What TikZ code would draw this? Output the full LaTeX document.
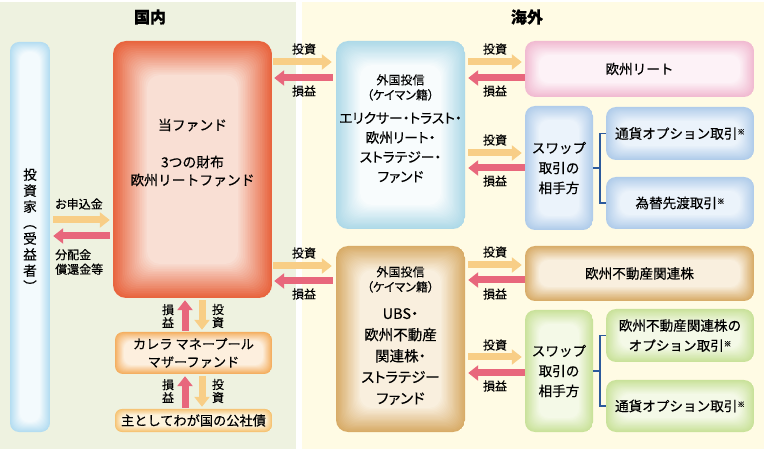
\documentclass[tikz,border=0pt]{standalone}
\usepackage{fontspec}
\setmainfont{Noto Sans CJK JP}[FakeBold=0.4]
\newfontfamily\pf{Noto Sans CJK JP}[RawFeature=+palt, FakeBold=0.4]
\usetikzlibrary{arrows.meta,calc}
\definecolor{bgL}{HTML}{EEF2E0}
\definecolor{bgR}{HTML}{FFFBE4}
\definecolor{yarr}{HTML}{F8CE86}
\definecolor{parr}{HTML}{E8677C}
\definecolor{brk}{HTML}{2C5A9C}
\definecolor{invE}{HTML}{B4DDF1}\definecolor{invC}{HTML}{F3FAFD}
\definecolor{fundE}{HTML}{E8653F}\definecolor{fundC}{HTML}{F9DFD4}
\definecolor{motE}{HTML}{F4AE5E}\definecolor{motC}{HTML}{FDEFDE}
\definecolor{bondE}{HTML}{F6C270}\definecolor{bondC}{HTML}{FDF3DC}
\definecolor{f1E}{HTML}{AED9E8}\definecolor{f1C}{HTML}{F8FCFD}
\definecolor{tanE}{HTML}{D8AC68}\definecolor{tanC}{HTML}{F9EFDE}
\definecolor{pinkE}{HTML}{F1BAD1}\definecolor{pinkC}{HTML}{FDF2F7}
\definecolor{blueE}{HTML}{B0CCEA}\definecolor{blueC}{HTML}{EBF3FB}
\definecolor{grnE}{HTML}{C9E29A}\definecolor{grnC}{HTML}{F4F9E7}
\tikzset{
  x=1pt, y=-1pt,
  glowstep/.store in=\glowstep, glowstep=0.7pt,
  glow/.style n args={3}{draw=none, rounded corners=#3, inner sep=0pt, path picture={
    \foreach \k [evaluate=\k as \p using int(\k*5)] in {0,...,20}{
      \fill[#2!\p!#1, rounded corners=#3]
        ([shift={(\k*\glowstep,-\k*\glowstep)}]path picture bounding box.north west) rectangle
        ([shift={(-\k*\glowstep,\k*\glowstep)}]path picture bounding box.south east);
    }}},
  txt/.style={align=center, font=\fontsize{13.6}{20}\selectfont, inner sep=0pt},
  lab/.style={align=center, font=\pf\fontsize{12}{13}\selectfont, inner sep=0pt},
  hdr/.style={font=\fontsize{16}{16}\selectfont\bfseries, inner sep=0pt},
  yA/.style={draw=yarr, line width=7pt, -{Triangle[width=15pt,length=10pt]}},
  pA/.style={draw=parr, line width=7pt, -{Triangle[width=15pt,length=10pt]}},
  brk/.style={draw=brk, line width=1.4pt},
}
\newcommand{\kome}{\raisebox{0.55ex}{\fontsize{7.5}{7.5}\selectfont ※}}
\begin{document}
\begin{tikzpicture}
\useasboundingbox (0,0) rectangle (764,449);
\fill[white] (0,0) rectangle (764,449);
\fill[bgL] (0,2) rectangle (296,449);
\fill[bgR] (302,2) rectangle (764,449);

\node[hdr] (hL) at (150,17) {国内};
\node[hdr] (hR) at (527,17) {海外};

% boxes
\node[glow={invE}{invC}{9pt}, glowstep=0.5pt, minimum width=40pt, minimum height=390pt] (inv) at (30,237) {};
\node[txt, font=\fontsize{13.6}{16}\selectfont] (invt) at (30,230) {投\\資\\家\\︵\\受\\益\\者\\︶};

\node[glow={fundE}{fundC}{13pt}, glowstep=1.7pt, minimum width=159pt, minimum height=257pt] (fund) at (192.5,169.5) {};
\node[txt, font=\fontsize{13.8}{18}\selectfont] (fundt1) at (192.5,125) {当ファンド};
\node[txt, font=\fontsize{13.8}{18}\selectfont] (fundt2) at (192.5,171) {3つの財布\\欧州リートファンド};

\node[glow={motE}{motC}{8pt}, glowstep=0.45pt, minimum width=157pt, minimum height=42pt, txt, font=\fontsize{13.2}{18}\selectfont] (mother) at (193.5,353) {カレラ マネープール\\マザーファンド};
\node[glow={bondE}{bondC}{7pt}, glowstep=0.3pt, minimum width=157pt, minimum height=23pt, txt, font=\fontsize{13.2}{16}\selectfont] (bond) at (193.5,420.5) {主としてわが国の公社債};

\node[glow={f1E}{f1C}{12pt}, glowstep=1.2pt, minimum width=129pt, minimum height=188pt] (f1) at (400.5,135) {};
\node[lab, font=\pf\fontsize{12}{15}\selectfont] (f1h) at (400.5,87.5) {外国投信\\（ケイマン籍）};
\node[txt, font=\pf\fontsize{13.8}{19.5}\selectfont] (f1t) at (400.5,147.5) {エリクサー・トラスト・\\欧州リート・\\ストラテジー・\\ファンド};

\node[glow={tanE}{tanC}{12pt}, glowstep=1.2pt, minimum width=129pt, minimum height=186pt] (f2) at (400.5,339) {};
\node[lab, font=\pf\fontsize{12}{15}\selectfont] (f2h) at (400.5,279.5) {外国投信\\（ケイマン籍）};
\node[txt, font=\pf\fontsize{14.5}{21.2}\selectfont] (f2t) at (400.5,356.5) {UBS・\\欧州不動産\\関連株・\\ストラテジー\\ファンド};

\node[glow={pinkE}{pinkC}{10pt}, minimum width=229pt, minimum height=56pt, txt] (reit) at (639.5,69) {欧州リート};
\node[glow={blueE}{blueC}{10pt}, minimum width=68pt, minimum height=124pt, txt] (swap1) at (559,168) {スワップ\\取引の\\相手方};
\node[glow={blueE}{blueC}{10pt}, minimum width=148pt, minimum height=53pt, txt] (cur1) at (680,133.5) {通貨オプション取引\kome};
\node[glow={blueE}{blueC}{10pt}, minimum width=148pt, minimum height=52pt, txt] (fwd) at (680,203) {為替先渡取引\kome};

\node[glow={tanE}{tanC}{10pt}, minimum width=229pt, minimum height=55pt, txt] (eqs) at (639.5,273.5) {欧州不動産関連株};
\node[glow={grnE}{grnC}{10pt}, minimum width=68pt, minimum height=122pt, txt] (swap2) at (559,371) {スワップ\\取引の\\相手方};
\node[glow={grnE}{grnC}{10pt}, minimum width=148pt, minimum height=53pt, txt] (opt) at (680,335.5) {欧州不動産関連株の\\オプション取引\kome};
\node[glow={grnE}{grnC}{10pt}, minimum width=148pt, minimum height=52pt, txt] (cur2) at (680,406) {通貨オプション取引\kome};

% investor <-> fund
\node[lab, anchor=west] (lsub) at (55,204) {お申込金};
\draw[yA, shorten <=3pt, shorten >=3pt] (inv.east |- 0,220) -- (fund.west |- 0,220);
\draw[pA, shorten <=3pt, shorten >=3pt] (fund.west |- 0,236) -- (inv.east |- 0,236);
\node[lab, anchor=north west, align=left, font=\pf\fontsize{12}{14.5}\selectfont] (ldist) at (55,249) {分配金\\償還金等};

% fund <-> mother <-> bond
\draw[pA, shorten <=1pt, shorten >=2pt] (mother.north -| 185,0) -- (fund.south -| 185,0);
\draw[yA, shorten <=2pt, shorten >=2pt] (fund.south -| 202,0) -- (mother.north -| 202,0);
\node[lab] (lm1) at (168,316) {損\\益};
\node[lab] (lm2) at (218,316) {投\\資};
\draw[pA, shorten <=1pt, shorten >=2pt] (bond.north -| 185,0) -- (mother.south -| 185,0);
\draw[yA, shorten <=2pt, shorten >=2pt] (mother.south -| 202,0) -- (bond.north -| 202,0);
\node[lab] (lb1) at (168,391) {損\\益};
\node[lab] (lb2) at (218,391) {投\\資};

% fund <-> f1
\node[lab] (a1) at (304,49) {投資};
\draw[yA, shorten <=1pt, shorten >=4pt] (fund.east |- 0,62) -- (f1.west |- 0,62);
\draw[pA, shorten <=3pt, shorten >=2pt] (f1.west |- 0,78) -- (fund.east |- 0,78);
\node[lab] (b1) at (304,91) {損益};

% fund <-> f2
\node[lab] (a2) at (304,253) {投資};
\draw[yA, shorten <=1pt, shorten >=4pt] (fund.east |- 0,266) -- (f2.west |- 0,266);
\draw[pA, shorten <=3pt, shorten >=2pt] (f2.west |- 0,281) -- (fund.east |- 0,281);
\node[lab] (b2) at (304,294) {損益};

% f1 <-> reit
\node[lab] (a3) at (495,49) {投資};
\draw[yA, shorten <=3pt, shorten >=3pt] (f1.east |- 0,62) -- (reit.west |- 0,62);
\draw[pA, shorten <=0pt, shorten >=3pt] (reit.west |- 0,78) -- (f1.east |- 0,78);
\node[lab] (b3) at (495,91) {損益};

% f1 <-> swap1
\node[lab] (a4) at (495,140) {投資};
\draw[yA, shorten <=3pt, shorten >=3pt] (f1.east |- 0,153) -- (swap1.west |- 0,153);
\draw[pA, shorten <=0pt, shorten >=3pt] (swap1.west |- 0,168) -- (f1.east |- 0,168);
\node[lab] (b4) at (495,181) {損益};

% f2 <-> eqs
\node[lab] (a5) at (495,252) {投資};
\draw[yA, shorten <=3pt, shorten >=3pt] (f2.east |- 0,265) -- (eqs.west |- 0,265);
\draw[pA, shorten <=0pt, shorten >=3pt] (eqs.west |- 0,280) -- (f2.east |- 0,280);
\node[lab] (b5) at (495,294) {損益};

% f2 <-> swap2
\node[lab] (a6) at (495,345) {投資};
\draw[yA, shorten <=3pt, shorten >=3pt] (f2.east |- 0,357) -- (swap2.west |- 0,357);
\draw[pA, shorten <=0pt, shorten >=3pt] (swap2.west |- 0,373) -- (f2.east |- 0,373);
\node[lab] (b6) at (495,386) {損益};

% brackets
\coordinate (k1) at (600,168);
\draw[brk] (swap1.east) -- (k1);
\draw[brk] (cur1.west) -| (k1) |- (fwd.west);
\coordinate (k2) at (600,371);
\draw[brk] (swap2.east) -- (k2);
\draw[brk] (opt.west) -| (k2) |- (cur2.west);
\end{tikzpicture}
\end{document}
